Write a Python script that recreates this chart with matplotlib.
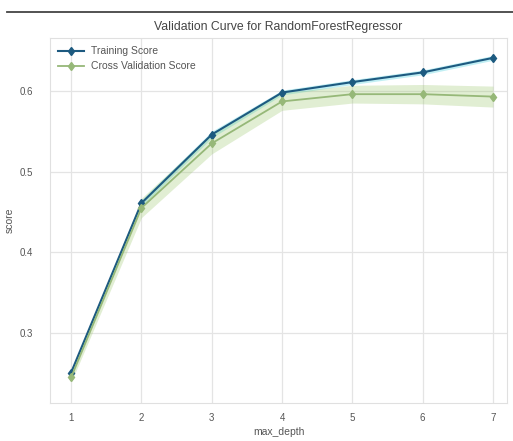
import numpy as np
import matplotlib
matplotlib.use("Agg")
import matplotlib.pyplot as plt
from matplotlib.lines import Line2D

# valores
max_depth = [1, 2, 3, 4, 5, 6, 7]
train_mean = [0.251, 0.461, 0.546, 0.598, 0.611, 0.623, 0.641]
train_std = [0.003, 0.004, 0.004, 0.003, 0.003, 0.003, 0.003]
cv_mean = [0.245, 0.455, 0.535, 0.587, 0.596, 0.596, 0.593]
cv_std = [0.006, 0.012, 0.013, 0.011, 0.011, 0.012, 0.013]

plt.rcParams['font.family'] = ['Liberation Sans', 'DejaVu Sans']

fig = plt.figure(figsize=(5.13, 4.41), dpi=100)
ax = fig.add_axes([0.0975, 0.086, 0.891, 0.828])

tr = np.array(train_mean)
ts = np.array(train_std)
cv = np.array(cv_mean)
cs = np.array(cv_std)

ax.fill_between(max_depth, tr - ts, tr + ts, color="#4fd3e0", alpha=0.35, lw=0)
ax.fill_between(max_depth, cv - cs, cv + cs, color="#9cc86e", alpha=0.3, lw=0)
ax.plot(max_depth, train_mean, marker="d", color="#1d5a80", lw=1.5, ms=4.5, label="Training Score")
ax.plot(max_depth, cv_mean, marker="d", color="#96b878", lw=1.3, ms=4.5, label="Cross Validation Score")

ax.set_xlim(0.7, 7.2)
ax.set_ylim(0.2132, 0.6657)
ax.set_xticks(max_depth)
ax.set_yticks([0.3, 0.4, 0.5, 0.6])
ax.grid(True, color="#e4e4e4", lw=0.9)
ax.set_axisbelow(True)
for s in ax.spines.values():
    s.set_color("#e0e0e0")
ax.tick_params(axis="both", length=0, labelsize=7, labelcolor="#555555")
ax.tick_params(axis="y", pad=12)
ax.tick_params(axis="x", pad=7)

ax.set_title("Validation Curve for RandomForestRegressor", fontsize=8.8, color="#444444", pad=6)
ax.set_xlabel("max_depth", fontsize=7.5, color="#555555", labelpad=3)
ax.set_ylabel("score", fontsize=7.5, color="#555555", labelpad=4)

ax.legend(loc="upper left", frameon=False, fontsize=7.5, handlelength=2.5,
          labelcolor="#555555", borderaxespad=0.4, handletextpad=0.6)

fig.add_artist(Line2D([7 / 513, 1], [1 - 12 / 441, 1 - 12 / 441], color="#444444", lw=1.3))

plt.savefig("out.png", dpi=100)
